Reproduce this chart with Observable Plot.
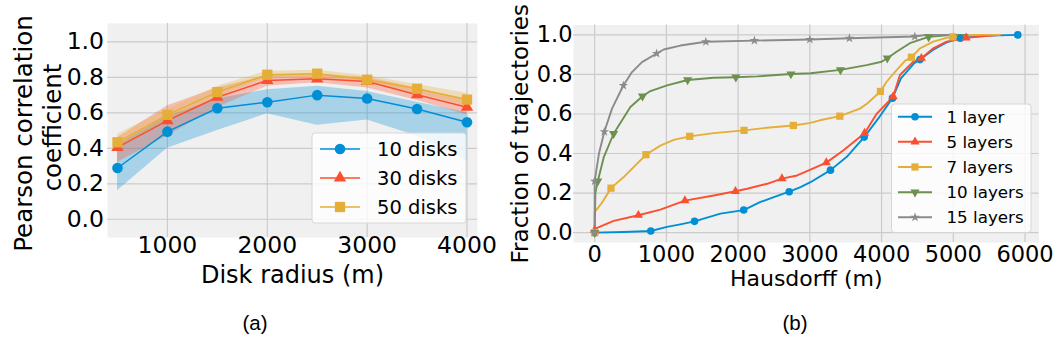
<!DOCTYPE html>
<html><head><meta charset="utf-8">
<script src="https://cdn.jsdelivr.net/npm/d3@7"></script>
<script src="https://cdn.jsdelivr.net/npm/@observablehq/plot@0.6"></script>
<style>
html,body{margin:0;padding:0;background:#fff;}
#fig{position:relative;width:1062px;height:356px;overflow:hidden;background:#fff;}
#fig svg{position:absolute;top:0;background:transparent !important;overflow:visible !important;}
.cap{position:absolute;font-family:"Liberation Sans",Arial,sans-serif;font-size:20.5px;color:#000;transform:translateX(-50%);line-height:1;}
</style></head><body><div id="fig"></div>
<script>
// ---------- (a) Pearson correlation vs disk radius ----------
const radii = [500, 1000, 1500, 2000, 2500, 3000, 3500, 4000];
const disk10   = [0.289, 0.494, 0.626, 0.660, 0.700, 0.681, 0.622, 0.547];
const disk10Lo = [0.16, 0.40, 0.50, 0.595, 0.53, 0.56, 0.47, 0.33];
const disk10Hi = [0.42, 0.58, 0.68, 0.73, 0.75, 0.72, 0.66, 0.60];
const disk30   = [0.405, 0.556, 0.688, 0.783, 0.792, 0.777, 0.702, 0.632];
const disk30Lo = [0.32, 0.47, 0.63, 0.75, 0.77, 0.74, 0.67, 0.59];
const disk30Hi = [0.46, 0.64, 0.74, 0.81, 0.82, 0.80, 0.74, 0.67];
const disk50   = [0.434, 0.589, 0.717, 0.815, 0.821, 0.787, 0.736, 0.675];
const disk50Lo = [0.40, 0.55, 0.69, 0.80, 0.80, 0.77, 0.71, 0.64];
const disk50Hi = [0.48, 0.62, 0.75, 0.835, 0.84, 0.81, 0.76, 0.71];
const diskNames = ["10 disks", "30 disks", "50 disks"];
const radiusTicks = [1000, 2000, 3000, 4000];
const corrTicks = [0, 0.2, 0.4, 0.6, 0.8, 1.0];

// ---------- (b) CDF of Hausdorff distance ----------
const layer1 = [[0,0],[400,0.003],[782,0.008],[1009,0.029],[1195,0.042],[1392,0.057],[1753,0.096],[2078,0.114],[2312,0.155],[2498,0.18],[2712,0.207],[2870,0.23],[3009,0.255],[3288,0.316],[3512,0.382],[3758,0.483],[3950,0.575],[4152,0.68],[4270,0.78],[4450,0.855],[4536,0.875],[4721,0.925],[4907,0.962],[5098,0.983],[5400,0.995],[5899,1.0]];
const layer1Marks = [[0,0],[782,0.008],[1392,0.057],[2078,0.114],[2712,0.207],[3288,0.316],[3758,0.483],[4152,0.68],[4536,0.875],[5098,0.983],[5899,1.0]];
const layer5 = [[0,0.012],[10,0.02],[265,0.059],[610,0.088],[916,0.116],[1258,0.162],[1660,0.188],[1963,0.209],[2126,0.222],[2405,0.247],[2611,0.273],[2823,0.289],[3009,0.318],[3230,0.354],[3465,0.415],[3763,0.503],[3930,0.60],[4162,0.688],[4256,0.797],[4442,0.864],[4555,0.882],[4721,0.932],[4907,0.966],[5179,0.985],[5651,1.0]];
const layer5Marks = [[0,0.012],[610,0.088],[1258,0.162],[1963,0.209],[2611,0.273],[3230,0.354],[3763,0.503],[4162,0.688],[4555,0.882],[5179,0.985]];
const layer7 = [[0,0],[0,0.104],[100,0.15],[228,0.225],[405,0.281],[715,0.394],[916,0.44],[1102,0.469],[1325,0.487],[1660,0.503],[2083,0.517],[2400,0.53],[2770,0.542],[3009,0.555],[3140,0.568],[3418,0.589],[3698,0.627],[3800,0.653],[3984,0.714],[4070,0.763],[4209,0.822],[4330,0.87],[4416,0.887],[4535,0.932],[4721,0.966],[4907,0.985],[4992,0.99],[5279,1.0],[5650,1.0]];
const layer7Marks = [[0,0],[228,0.225],[715,0.394],[1325,0.487],[2083,0.517],[2770,0.542],[3418,0.589],[3984,0.714],[4416,0.887],[4992,0.99]];
const layer10 = [[0,0],[10,0.2],[43,0.26],[126,0.38],[264,0.5],[498,0.635],[667,0.69],[777,0.716],[1009,0.745],[1296,0.772],[1660,0.783],[1968,0.786],[2265,0.79],[2736,0.802],[3009,0.806],[3427,0.823],[3791,0.847],[4000,0.864],[4080,0.882],[4209,0.915],[4395,0.958],[4656,0.99],[5000,1.0],[5200,1.0]];
const layer10Marks = [[0,0],[43,0.26],[264,0.5],[667,0.69],[1296,0.772],[1968,0.786],[2736,0.802],[3427,0.823],[4080,0.882],[4656,0.99]];
const layer15 = [[0,0],[0,0.26],[60,0.4],[135,0.51],[242,0.627],[400,0.744],[521,0.812],[660,0.862],[864,0.906],[963,0.926],[1195,0.946],[1550,0.965],[2227,0.971],[3000,0.977],[3552,0.983],[4464,0.992],[4628,1.0],[5000,1.0]];
const layer15Marks = [[0,0],[0,0.26],[135,0.51],[400,0.744],[864,0.906],[1550,0.965],[2227,0.971],[3000,0.977],[3552,0.983],[4464,0.992]];
const layerNames = ["1 layer", "5 layers", "7 layers", "10 layers", "15 layers"];
const hausTicks = [0, 1000, 2000, 3000, 4000, 5000, 6000];
const fracTicks = [0, 0.2, 0.4, 0.6, 0.8, 1.0];

// ---------- styling ----------
const palette = ["#008fd5", "#fc4f30", "#e5ae38", "#6d904f", "#8b8b8b"];
const triangleDown = {
  draw(ctx, size) {
    const y = -Math.sqrt(size / (Math.sqrt(3) * 3));
    ctx.moveTo(0, -y * 2);
    ctx.lineTo(-Math.sqrt(3) * y, y);
    ctx.lineTo(Math.sqrt(3) * y, y);
    ctx.closePath();
  }
};
const symMap = {circle: d3.symbolCircle, triangle: d3.symbolTriangle, square: d3.symbolSquare, star: d3.symbolStar};
const symOf = s => typeof s === "string" ? symMap[s] : s;
const FONT = "DejaVu Sans";
const fig = document.getElementById("fig");

function legend(svg, items, opt) {
  const g = d3.select(svg).append("g");
  g.append("rect").attr("x", opt.x0).attr("y", opt.y0).attr("width", opt.x1 - opt.x0).attr("height", opt.y1 - opt.y0)
    .attr("rx", 3).attr("fill", "#fff").attr("fill-opacity", 0.8).attr("stroke", "#d6d6d6").attr("stroke-width", 1);
  items.forEach((it, i) => {
    const y = opt.rows[i];
    g.append("line").attr("x1", opt.l0).attr("x2", opt.l1).attr("y1", y).attr("y2", y)
      .attr("stroke", it.color).attr("stroke-width", opt.lw);
    g.append("path").attr("transform", `translate(${(opt.l0 + opt.l1) / 2},${y})`)
      .attr("d", d3.symbol(symOf(it.symbol), Math.PI * it.r * it.r)()).attr("fill", it.color);
    g.append("text").attr("x", opt.tx).attr("y", y).attr("dy", "0.36em").attr("font-size", opt.fs)
      .attr("text-anchor", "start").attr("font-family", FONT).attr("fill", "#000").text(it.name);
  });
}

// ---------- plot (a) ----------
const diskSeries = [
  {name: diskNames[0], v: disk10, lo: disk10Lo, hi: disk10Hi, color: palette[0], symbol: "circle", r: 5.3},
  {name: diskNames[1], v: disk30, lo: disk30Lo, hi: disk30Hi, color: palette[1], symbol: "triangle", r: 4.6},
  {name: diskNames[2], v: disk50, lo: disk50Lo, hi: disk50Hi, color: palette[2], symbol: "square", r: 5.8}
];
const rowsOf = s => radii.map((x, i) => ({x, y: s.v[i], lo: s.lo[i], hi: s.hi[i]}));

const plotA = Plot.plot({
  width: 520, height: 290,
  marginLeft: 107, marginRight: 43, marginTop: 23, marginBottom: 53,
  style: {fontFamily: FONT, fontSize: "23.5px", color: "#000", background: "transparent"},
  x: {domain: [400, 4105]},
  y: {domain: [-0.103, 1.104]},
  marks: [
    Plot.frame({fill: "#f0f0f0", stroke: null}),
    Plot.gridX(radiusTicks, {stroke: "#cbcbcb", strokeOpacity: 1, strokeWidth: 1.2}),
    Plot.gridY(corrTicks, {stroke: "#cbcbcb", strokeOpacity: 1, strokeWidth: 1.2}),
    ...diskSeries.map(s => Plot.areaY(rowsOf(s), {x: "x", y1: "lo", y2: "hi", fill: s.color, fillOpacity: 0.3})),
    ...diskSeries.map(s => Plot.line(rowsOf(s), {x: "x", y: "y", stroke: s.color, strokeWidth: 1.5})),
    ...diskSeries.map(s => Plot.dot(rowsOf(s), {x: "x", y: "y", symbol: s.symbol, r: s.r, fill: s.color, stroke: null})),
    Plot.axisX(radiusTicks, {tickSize: 0, tickPadding: -1, label: null, tickFormat: d => String(d)}),
    Plot.axisY(corrTicks, {tickSize: 0, tickPadding: 3.5, label: null, tickFormat: d3.format(".1f")}),
    Plot.text(["Disk radius (m)"], {text: d => d, frameAnchor: "bottom", lineAnchor: "bottom", dy: 45, fontSize: 24}),
    Plot.text(["Pearson correlation"], {text: d => d, frameAnchor: "left", rotate: -90, textAnchor: "middle", lineAnchor: "bottom", dx: -75.5, dy: 3, fontSize: 24.5}),
    Plot.text(["coefficient"], {text: d => d, frameAnchor: "left", rotate: -90, textAnchor: "middle", lineAnchor: "bottom", dx: -47, dy: -3, fontSize: 24.5})
  ]
});
plotA.style.left = "0px";
legend(plotA, diskSeries, {x0: 312, x1: 466, y0: 133, y1: 223, rows: [149, 178, 207], l0: 320, l1: 360, tx: 377, fs: 19.5, lw: 1.5});
fig.appendChild(plotA);

// ---------- plot (b) ----------
const layerSeries = [
  {name: layerNames[0], pts: layer1, marks: layer1Marks, color: palette[0], symbol: "circle", r: 3.8},
  {name: layerNames[1], pts: layer5, marks: layer5Marks, color: palette[1], symbol: "triangle", r: 3.4},
  {name: layerNames[2], pts: layer7, marks: layer7Marks, color: palette[2], symbol: "square", r: 4.1},
  {name: layerNames[3], pts: layer10, marks: layer10Marks, color: palette[3], symbol: triangleDown, r: 3.4},
  {name: layerNames[4], pts: layer15, marks: layer15Marks, color: palette[4], symbol: "star", r: 3.0}
];
const X = d => d[0], Y = d => d[1];
const plotB = Plot.plot({
  width: 542, height: 290,
  marginLeft: 53, marginRight: 23.5, marginTop: 24.5, marginBottom: 48,
  style: {fontFamily: FONT, fontSize: "22.5px", color: "#000", background: "transparent", overflow: "visible"},
  x: {domain: [-295, 6195]},
  y: {domain: [-0.05, 1.05]},
  marks: [
    Plot.frame({fill: "#f0f0f0", stroke: null}),
    Plot.gridX(hausTicks, {stroke: "#cbcbcb", strokeOpacity: 1, strokeWidth: 1.2}),
    Plot.gridY(fracTicks, {stroke: "#cbcbcb", strokeOpacity: 1, strokeWidth: 1.2}),
    ...layerSeries.map(s => Plot.line(s.pts, {x: X, y: Y, stroke: s.color, strokeWidth: 1.9})),
    ...layerSeries.map(s => Plot.dot(s.marks, {x: X, y: Y, symbol: s.symbol, r: s.r, fill: s.color, stroke: null})),
    Plot.axisX(hausTicks, {tickSize: 0, tickPadding: 4, label: null, tickFormat: d => String(d)}),
    Plot.axisY(fracTicks, {tickSize: 0, tickPadding: 1, label: null, tickFormat: d3.format(".1f")}),
    Plot.text(["Hausdorff (m)"], {text: d => d, frameAnchor: "bottom", lineAnchor: "bottom", dy: 43, fontSize: 22}),
    Plot.text(["Fraction of trajectories"], {text: d => d, frameAnchor: "left", rotate: -90, textAnchor: "middle", lineAnchor: "bottom", dx: -46, dy: 0, fontSize: 23})
  ]
});
plotB.style.left = "520px";
plotB.style.overflow = "visible";
legend(plotB, layerSeries, {x0: 891.5 - 520, x1: 1031 - 520, y0: 104, y1: 232.5, rows: [116.7, 141.8, 167, 192.2, 217.3], l0: 898 - 520, l1: 932 - 520, tx: 946.5 - 520, fs: 16.7, lw: 1.9});
fig.appendChild(plotB);

// ---------- captions ----------
[["(a)", 255], ["(b)", 795]].forEach(([t, x]) => {
  const d = document.createElement("div");
  d.className = "cap"; d.textContent = t;
  d.style.left = x + "px"; d.style.top = "313px";
  fig.appendChild(d);
});
</script></body></html>
